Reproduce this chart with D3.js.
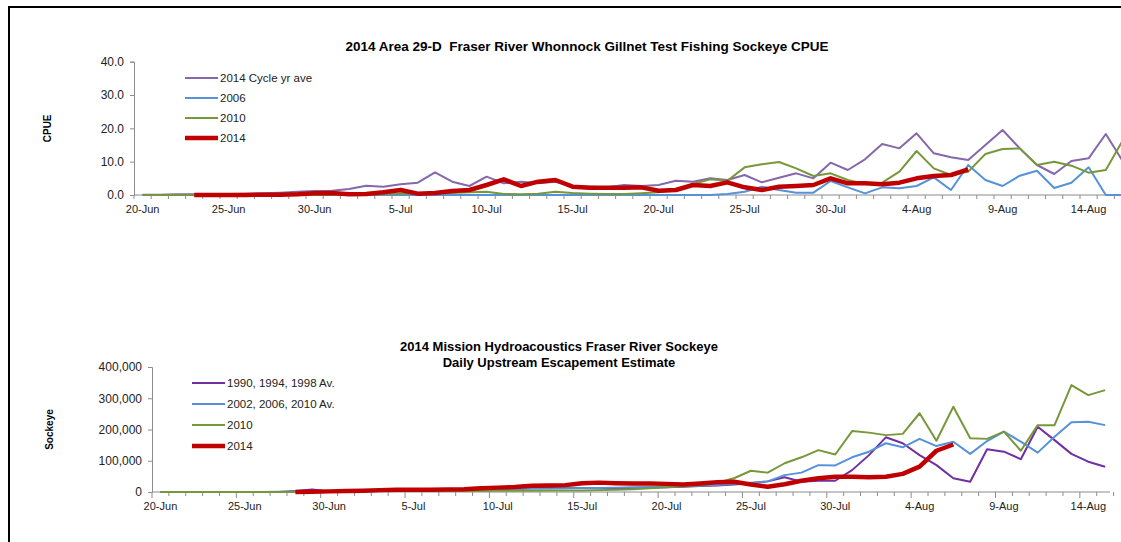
<!DOCTYPE html>
<html>
<head>
<meta charset="utf-8">
<script src="https://cdn.jsdelivr.net/npm/d3@7"></script>
<style>
  body { margin: 0; background: #fff; }
  svg { display: block; font-family: "Liberation Sans", Arial, sans-serif; }
  .tick text { fill: #222; }
</style>
</head>
<body>
<svg id="chart" width="1121" height="542"></svg>
<script>
// days Jun 20 .. Aug 16 (top), Jun 20 .. Aug 15 (bottom)
const dayFmt = d3.timeFormat('%-d-%b');
const daysTop = d3.timeDay.range(new Date(2014, 5, 20), new Date(2014, 7, 17));
const daysBottom = daysTop.slice(0, 57);

// CPUE, Whonnock gillnet
const cycleAve = [0.1, 0.1, 0.2, 0.2, 0.3, 0.3, 0.4, 0.5, 0.7, 1.0,
  1.2, 1.3, 1.8, 2.8, 2.5, 3.2, 3.7, 6.8, 4.0, 2.7,
  5.5, 3.5, 4.0, 3.5, 4.0, 2.7, 2.5, 2.3, 3.0, 2.7,
  3.0, 4.3, 4.0, 5.0, 4.5, 6.0, 3.8, 5.2, 6.5, 5.0,
  9.7, 7.5, 10.7, 15.3, 14.0, 18.5, 12.5, 11.3, 10.5, 15.0,
  19.5, 14.0, 9.0, 6.3, 10.2, 11.0, 18.3, 10.0];
const cpue2006 = [0, 0, 0, 0, 0, 0, 0, 0, 0, 0,
  0, 0, 0, 0, 0, 0, 0, 0, 0, 0,
  0, 0, 0, 0, 0, 0, 0, 0, 0, 0,
  0, 0, 0, 0, 0.3, 1.0, 2.5, 1.5, 0.7, 0.7,
  4.2, 2.3, 0.5, 2.3, 2.0, 2.7, 5.3, 1.5, 9.0, 4.5,
  2.7, 5.8, 7.3, 2.1, 3.7, 8.3, 0, 0];
const cpue2010 = [0, 0, 0, 0, 0, 0, 0, 0, 0, 0,
  0, 0, 0, 0, 0.2, 0.5, 0.3, 0.5, 0.6, 0.8,
  1.0, 0.3, 0.2, 0.4, 1.0, 0.6, 0.4, 0.3, 0.3, 0.5,
  0.8, 1.5, 3.3, 4.7, 4.3, 8.3, 9.2, 9.9, 8.0, 5.7,
  6.5, 4.5, 3.3, 3.7, 7.0, 13.2, 8.0, 6.0, 7.0, 12.3,
  13.8, 14.0, 9.0, 10.0, 8.8, 6.7, 7.5, 16.5];
const cpue2014 = [null, null, null, 0, 0, 0, 0, 0.1, 0.1, 0.2,
  0.5, 0.6, 0.2, 0.3, 0.8, 1.5, 0.4, 0.6, 1.2, 1.5,
  3.0, 4.7, 2.7, 4.0, 4.5, 2.5, 2.2, 2.2, 2.2, 2.3,
  1.3, 1.5, 3.0, 2.7, 3.8, 2.3, 1.5, 2.5, 2.7, 3.0,
  5.0, 3.5, 3.5, 3.2, 3.7, 5.0, 5.7, 6.0, 7.7];

// Mission hydroacoustics daily escapement
const av9098 = [0, 0, 0, 0, 0, 0, 0, 0, 3000, 8000,
  2000, 3000, 4000, 5000, 6000, 6000, 7000, 8000, 9000, 10000,
  12000, 13000, 14000, 15000, 14000, 13000, 12000, 12000, 13000, 14000,
  15000, 17000, 19000, 21000, 24000, 28000, 34000, 47000, 33000, 36000,
  36000, 70000, 118000, 175000, 156000, 118000, 86000, 44000, 33000, 137000,
  129000, 105000, 209000, 166000, 122000, 97000, 81000];
const av0210 = [0, 0, 0, 0, 0, 0, 0, 1000, 1000, 2000,
  2000, 3000, 3000, 4000, 4000, 5000, 5000, 6000, 6000, 7000,
  8000, 9000, 10000, 11000, 12000, 13000, 13000, 14000, 15000, 16000,
  17000, 19000, 20000, 22000, 26000, 30000, 34000, 54000, 62000, 86000,
  85000, 111000, 129000, 156000, 143000, 170000, 147000, 161000, 122000, 163000,
  193000, 161000, 126000, 177000, 223000, 225000, 214000];
const esc2010 = [0, 0, 0, 0, 0, 0, 0, 0, 0, 1000,
  1000, 2000, 2000, 3000, 3000, 3000, 4000, 4000, 3000, 3000,
  4000, 4000, 4000, 5000, 5000, 5000, 6000, 7000, 9000, 12000,
  15000, 18000, 22000, 30000, 44000, 68000, 62000, 92000, 111000, 134000,
  120000, 195000, 190000, 182000, 186000, 252000, 164000, 273000, 172000, 170000,
  193000, 132000, 214000, 214000, 342000, 310000, 326000];
const esc2014 = [null, null, null, null, null, null, null, null, 0, 1000,
  2000, 3000, 4000, 6000, 7000, 7000, 7000, 8000, 9000, 12000,
  14000, 16000, 20000, 21000, 22000, 28000, 30000, 28000, 27000, 27000,
  26000, 24000, 27000, 31000, 33000, 24000, 17000, 25000, 36000, 44000,
  49000, 49000, 47000, 49000, 58000, 81000, 132000, 152000];

const topSeries = [
  { name: '2014 Cycle yr ave', values: cycleAve, color: '#8468ab', width: 2 },
  { name: '2006', values: cpue2006, color: '#5592d8', width: 2 },
  { name: '2010', values: cpue2010, color: '#77983a', width: 2 },
  { name: '2014', values: cpue2014, color: '#c00000', width: 4.5 }
];
const bottomSeries = [
  { name: '1990, 1994, 1998 Av.', values: av9098, color: '#7030a0', width: 2 },
  { name: '2002, 2006, 2010 Av.', values: av0210, color: '#5592d8', width: 2 },
  { name: '2010', values: esc2010, color: '#77983a', width: 2 },
  { name: '2014', values: esc2014, color: '#c00000', width: 4.5 }
];

const svg = d3.select('#chart');

// outer frame (cropped on the right and bottom)
svg.append('rect')
  .attr('x', 9).attr('y', 7)
  .attr('width', 1130).attr('height', 560)
  .attr('fill', 'none').attr('stroke', '#000').attr('stroke-width', 2);

function drawPanel(cfg) {
  const g = svg.append('g');
  const n = cfg.days.length;
  const x = d3.scaleBand()
    .domain(d3.range(n))
    .range([cfg.left, cfg.left + n * cfg.step]);
  const y = d3.scaleLinear()
    .domain([0, cfg.max])
    .range([cfg.bottom, cfg.top]);
  const bw = x.bandwidth();

  // y axis
  g.append('g')
    .attr('transform', `translate(${cfg.left},0)`)
    .call(d3.axisLeft(y).tickValues(cfg.yTicks).tickFormat(cfg.yFormat).tickSize(4).tickPadding(6))
    .call(a => a.selectAll('path,line').attr('stroke', '#8c8c8c'))
    .call(a => a.selectAll('text').attr('font-size', 12));

  // x axis: a tick at every day boundary, a label every 5 days
  g.append('line')
    .attr('x1', cfg.left).attr('x2', cfg.axisEnd)
    .attr('y1', cfg.bottom).attr('y2', cfg.bottom)
    .attr('stroke', '#8c8c8c');
  g.selectAll('.xtick')
    .data(d3.range(n + 1))
    .enter().append('line')
    .attr('class', 'xtick')
    .attr('x1', i => x.range()[0] + i * x.step())
    .attr('x2', i => x.range()[0] + i * x.step())
    .attr('y1', cfg.bottom)
    .attr('y2', i => cfg.bottom + (cfg.majorTicks && i % 5 === 0 ? 6 : 4))
    .attr('stroke', '#8c8c8c');
  g.selectAll('.xlab')
    .data(d3.range(0, n, 5))
    .enter().append('text')
    .attr('x', i => x(i) + bw / 2)
    .attr('y', cfg.bottom + 18)
    .attr('text-anchor', 'middle')
    .attr('font-size', 11)
    .attr('fill', '#222')
    .text(i => dayFmt(cfg.days[i]));

  // series
  const line = d3.line()
    .defined(d => d != null)
    .x((d, i) => x(i) + bw / 2)
    .y(d => y(d));
  cfg.series.forEach(s => {
    g.append('path')
      .datum(s.values)
      .attr('fill', 'none')
      .attr('stroke', s.color)
      .attr('stroke-width', s.width)
      .attr('stroke-linejoin', 'round')
      .attr('d', line);
  });

  // titles
  cfg.title.forEach((t, k) => {
    g.append('text')
      .attr('x', cfg.titleX).attr('y', cfg.titleY + k * 16)
      .attr('text-anchor', 'middle')
      .attr('font-size', cfg.titleSize).attr('font-weight', 'bold')
      .style('white-space', 'pre')
      .text(t);
  });
  g.append('text')
    .attr('transform', `translate(${cfg.yLabelX},${(cfg.top + cfg.bottom) / 2}) rotate(-90)`)
    .attr('text-anchor', 'middle')
    .attr('font-size', 10).attr('font-weight', 'bold')
    .text(cfg.yLabel);

  // legend
  const leg = g.selectAll('.leg')
    .data(cfg.series)
    .enter().append('g')
    .attr('transform', (d, i) => `translate(${cfg.legX},${cfg.legY + i * cfg.legGap})`);
  leg.append('line')
    .attr('x1', 0).attr('x2', 33)
    .attr('stroke', d => d.color)
    .attr('stroke-width', d => d.width);
  leg.append('text')
    .attr('x', 35).attr('dy', '0.35em')
    .attr('font-size', 11.5)
    .attr('fill', '#222')
    .text(d => d.name);
}

drawPanel({
  days: daysTop, series: topSeries,
  left: 134, step: 17.2, axisEnd: 1121,
  top: 61.7, bottom: 195, max: 40,
  yTicks: [0, 10, 20, 30, 40], yFormat: d3.format('.1f'),
  title: ['2014 Area 29-D  Fraser River Whonnock Gillnet Test Fishing Sockeye CPUE'],
  titleX: 587, titleY: 51, titleSize: 13.5,
  yLabel: 'CPUE', yLabelX: 51,
  legX: 185, legY: 78, legGap: 20
});

drawPanel({
  days: daysBottom, series: bottomSeries,
  left: 152, step: 16.87, axisEnd: 1110, majorTicks: true,
  top: 367, bottom: 492, max: 400000,
  yTicks: [0, 100000, 200000, 300000, 400000], yFormat: d3.format(','),
  title: ['2014 Mission Hydroacoustics Fraser River Sockeye', 'Daily Upstream Escapement Estimate'],
  titleX: 559, titleY: 351, titleSize: 13,
  yLabel: 'Sockeye', yLabelX: 53,
  legX: 192, legY: 383, legGap: 21
});
</script>
</body>
</html>
